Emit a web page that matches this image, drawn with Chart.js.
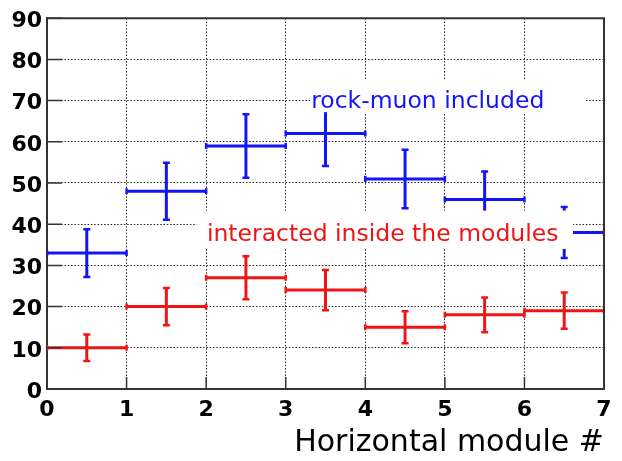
<!DOCTYPE html>
<html><head><meta charset="utf-8">
<script src="https://cdn.jsdelivr.net/npm/chart.js@4.4.1/dist/chart.umd.min.js"></script>
<style>html,body{margin:0;padding:0;background:#fff}#wrap{width:622px;height:461px}</style>
</head><body><div id="wrap"><canvas id="c" width="622" height="461"></canvas></div>
<script>
// ---- data ----
const binEdges = [0, 1, 2, 3, 4, 5, 6, 7];
const binCenters = [0.5, 1.5, 2.5, 3.5, 4.5, 5.5, 6.5];
const rockMuon = [33, 48, 59, 62, 51, 46, 38];
const rockMuonErr = [5.8, 6.9, 7.7, 7.9, 7.1, 6.8, 6.2];
const interacted = [10, 20, 27, 24, 15, 18, 19];
const interactedErr = [3.2, 4.5, 5.2, 4.9, 3.9, 4.2, 4.4];
const xTickValues = [0, 1, 2, 3, 4, 5, 6, 7];
const yTickValues = [0, 10, 20, 30, 40, 50, 60, 70, 80, 90];
const seriesLabels = ['rock-muon included', 'interacted inside the modules'];
const xTitle = 'Horizontal module #';

const BLUE = 'rgb(20,20,250)';
const RED = 'rgb(240,20,20)';

function hSegments(vals) {
  const pts = [];
  vals.forEach((v, i) => {
    pts.push({x: binEdges[i], y: v}, {x: binEdges[i + 1], y: v}, {x: binEdges[i + 1], y: null});
  });
  return pts;
}
function vSegments(vals, errs) {
  const pts = [];
  vals.forEach((v, i) => {
    pts.push({x: binCenters[i], y: v - errs[i]}, {x: binCenters[i], y: v + errs[i]}, {x: binCenters[i], y: null});
  });
  return pts;
}
function hDs(vals, color) {
  return {data: hSegments(vals), borderColor: color, backgroundColor: color, borderWidth: 3,
    pointStyle: 'line', rotation: 90, pointRadius: 3, pointBorderWidth: 2.5, pointBorderColor: color,
    spanGaps: false, tension: 0, showLine: true};
}
function vDs(vals, errs, color) {
  return {data: vSegments(vals, errs), borderColor: color, backgroundColor: color, borderWidth: 3,
    pointStyle: 'line', rotation: 0, pointRadius: 3.5, pointBorderWidth: 2.5, pointBorderColor: color,
    spanGaps: false, tension: 0, showLine: true};
}

const annotations = [
  {text: seriesLabels[0], color: BLUE, x: 3.32, y: 68.2, box: [3.31, 6.76, 75.1, 67.2]},
  {text: seriesLabels[1], color: RED, x: 2.01, y: 36.0, box: [1.88, 6.61, 43.3, 34.0]}
];

const framePlugin = {
  id: 'frame',
  afterDatasetsDraw(chart) {
    const {ctx, chartArea: a, scales: {x, y}} = chart;
    ctx.save();
    annotations.forEach(an => {
      const x0 = x.getPixelForValue(an.box[0]), x1 = x.getPixelForValue(an.box[1]);
      const y0 = y.getPixelForValue(an.box[2]), y1 = y.getPixelForValue(an.box[3]);
      ctx.fillStyle = '#fff';
      ctx.fillRect(x0, y0, x1 - x0, y1 - y0);
      ctx.fillStyle = an.color;
      ctx.font = '23.5px "DejaVu Sans"';
      ctx.textBaseline = 'alphabetic';
      ctx.textAlign = 'left';
      ctx.fillText(an.text, x.getPixelForValue(an.x), y.getPixelForValue(an.y));
    });
    ctx.strokeStyle = '#333';
    ctx.lineWidth = 1.5;
    ctx.beginPath();
    yTickValues.forEach(v => {
      const py = y.getPixelForValue(v);
      ctx.moveTo(a.left, py); ctx.lineTo(a.left + 15, py);
    });
    xTickValues.forEach(v => {
      const px = x.getPixelForValue(v);
      ctx.moveTo(px, a.bottom); ctx.lineTo(px, a.bottom - 12);
    });
    ctx.stroke();
    ctx.strokeStyle = '#333';
    ctx.lineWidth = 2;
    ctx.beginPath();
    ctx.moveTo(a.left, a.top); ctx.lineTo(a.right, a.top); ctx.lineTo(a.right, a.bottom);
    ctx.stroke();
    ctx.restore();
  }
};

new Chart(document.getElementById('c'), {
  type: 'scatter',
  data: {datasets: [
    hDs(rockMuon, BLUE), vDs(rockMuon, rockMuonErr, BLUE),
    hDs(interacted, RED), vDs(interacted, interactedErr, RED)
  ]},
  options: {
    responsive: false, animation: false, devicePixelRatio: 1,
    layout: {padding: {top: 12, right: 18, left: 0, bottom: 0}},
    plugins: {legend: {display: false}, tooltip: {enabled: false}},
    scales: {
      x: {
        type: 'linear', min: 0, max: 7,
        afterBuildTicks(s) { s.ticks = xTickValues.map(v => ({value: v})); },
        afterFit(s) { s.height = 72; },
        ticks: {color: '#000', font: {family: 'DejaVu Sans', weight: 'bold', size: 22}, padding: 8, maxRotation: 0, autoSkip: false},
        grid: {color: '#222', lineWidth: 1, drawTicks: false},
        border: {display: true, color: '#333', width: 2, dash: [1.5, 1.8]},
        title: {display: true, text: xTitle, align: 'end', color: '#000', font: {family: 'DejaVu Sans', size: 30}, padding: {top: 2, bottom: 0}}
      },
      y: {
        type: 'linear', min: 0, max: 90,
        afterBuildTicks(s) { s.ticks = yTickValues.map(v => ({value: v})); },
        afterFit(s) { s.width = 47; },
        ticks: {color: '#000', font: {family: 'DejaVu Sans', weight: 'bold', size: 22}, padding: 5, labelOffset: 3, autoSkip: false},
        grid: {color: '#222', lineWidth: 1, drawTicks: false},
        border: {display: true, color: '#333', width: 2, dash: [1.5, 1.8]}
      }
    }
  },
  plugins: [framePlugin]
});
</script></body></html>
